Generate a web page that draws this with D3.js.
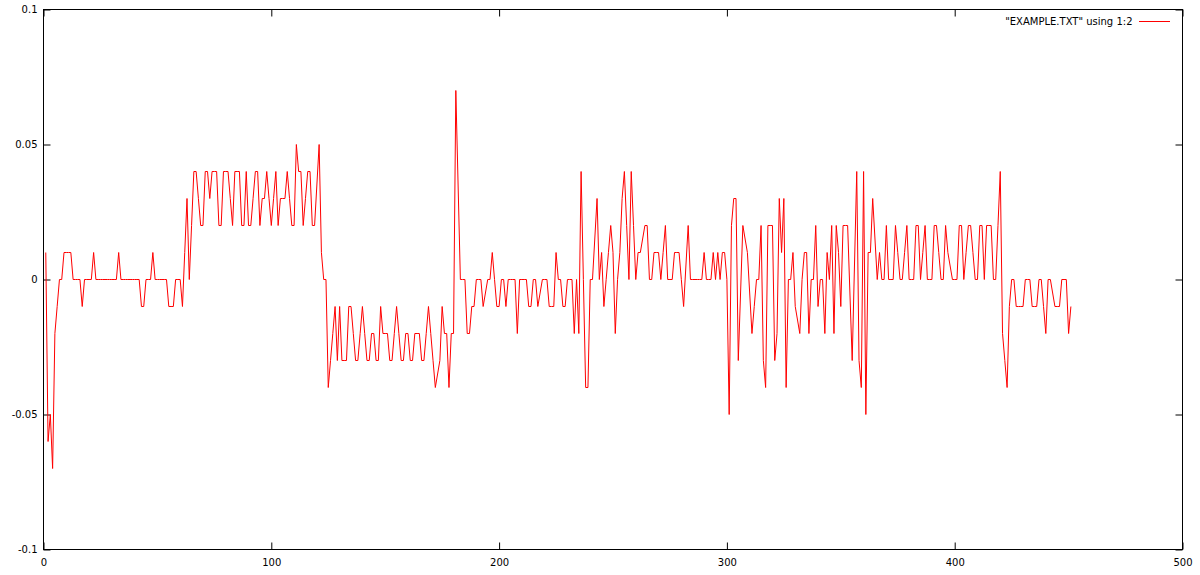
<!DOCTYPE html>
<html>
<head>
<meta charset="utf-8">
<script src="https://cdn.jsdelivr.net/npm/d3@7"></script>
<style>
  body { margin: 0; background: #fff; }
  svg { display: block; }
  text { font-family: 'DejaVu Sans', sans-serif; font-size: 10px; fill: #000; }
</style>
</head>
<body>
<svg id="chart"></svg>
<script>
// data, column 1 starts at 1
const startX = 1;
const values = [
  0.01, -0.06, -0.05, -0.07, -0.02, -0.01, 0, 0, 0.01, 0.01,
  0.01, 0.01, 0, 0, 0, 0, -0.01, 0, 0, 0,
  0, 0.01, 0, 0, 0, 0, 0, 0, 0, 0,
  0, 0, 0.01, 0, 0, 0, 0, 0, 0, 0,
  0, 0, -0.01, -0.01, 0, 0, 0, 0.01, 0, 0,
  0, 0, 0, 0, -0.01, -0.01, -0.01, 0, 0, 0,
  -0.01, 0.01, 0.03, 0, 0.02, 0.04, 0.04, 0.03, 0.02, 0.02,
  0.04, 0.04, 0.03, 0.04, 0.04, 0.04, 0.02, 0.02, 0.04, 0.04,
  0.04, 0.03, 0.02, 0.04, 0.04, 0.04, 0.02, 0.02, 0.04, 0.02,
  0.02, 0.03, 0.04, 0.04, 0.02, 0.03, 0.03, 0.04, 0.03, 0.02,
  0.03, 0.04, 0.02, 0.03, 0.03, 0.03, 0.04, 0.03, 0.02, 0.02,
  0.05, 0.04, 0.04, 0.02, 0.03, 0.04, 0.04, 0.02, 0.02, 0.035,
  0.05, 0.01, 0, 0, -0.04, -0.03, -0.02, -0.01, -0.03, -0.01,
  -0.03, -0.03, -0.03, -0.01, -0.01, -0.02, -0.03, -0.03, -0.02, -0.01,
  -0.02, -0.03, -0.03, -0.02, -0.02, -0.03, -0.03, -0.01, -0.02, -0.02,
  -0.02, -0.03, -0.03, -0.02, -0.01, -0.02, -0.03, -0.03, -0.02, -0.02,
  -0.03, -0.03, -0.02, -0.02, -0.02, -0.03, -0.03, -0.02, -0.01, -0.02,
  -0.03, -0.04, -0.035, -0.03, -0.01, -0.02, -0.02, -0.04, -0.02, -0.02,
  0.07, 0.035, 0, 0, 0, -0.02, -0.02, -0.01, -0.01, 0,
  0, 0, -0.01, -0.005, 0, 0, 0.01, 0, -0.01, -0.01,
  0, 0, -0.01, 0, 0, 0, 0, -0.02, 0, 0,
  0, 0, -0.01, -0.01, 0, 0, -0.01, -0.005, 0, 0,
  0, -0.01, -0.01, -0.01, 0.01, 0, 0, -0.01, -0.01, 0,
  0, 0, -0.02, 0, -0.02, 0.04, 0, -0.04, -0.04, 0,
  0, 0.015, 0.03, 0, 0.01, -0.01, 0, 0.01, 0.02, 0.01,
  -0.02, 0, 0.01, 0.03, 0.04, 0.02, 0, 0.04, 0.02, 0,
  0.01, 0.01, 0.015, 0.02, 0.02, 0, 0, 0.01, 0.01, 0.01,
  0, 0.01, 0.02, 0, 0, 0, 0.01, 0.01, 0.01, 0,
  -0.01, 0.005, 0.02, 0, 0, 0, 0, 0, 0, 0.01,
  0, 0, 0, 0.01, 0, 0.01, 0, 0.01, 0.01, 0,
  -0.05, 0.02, 0.03, 0.03, -0.03, -0.005, 0.02, 0.015, 0.01, -0.005,
  -0.02, -0.01, 0, 0, 0.02, -0.03, -0.04, 0.02, 0.02, 0.02,
  -0.03, -0.02, 0.03, 0.01, 0.03, -0.04, 0, 0, 0.01, -0.01,
  -0.015, -0.02, 0, 0.01, 0.01, -0.02, 0, 0, 0.02, -0.01,
  0, 0, -0.02, 0.01, 0, 0.02, -0.02, 0.02, 0.01, -0.01,
  0.02, 0.02, 0.02, -0.005, -0.03, 0.005, 0.04, -0.03, -0.04, 0.04,
  -0.05, 0.01, 0.01, 0.03, 0.015, 0, 0.01, 0, 0, 0.02,
  0, 0, 0, 0.02, 0.01, 0, 0, 0.01, 0.02, 0,
  0, 0, 0.02, 0.02, 0, 0.01, 0.02, 0, 0, 0,
  0.02, 0.02, 0.01, 0, 0, 0.02, 0.01, 0.005, 0, 0,
  0, 0.02, 0.02, 0, 0.01, 0.02, 0.02, 0.01, 0, 0,
  0.02, 0.02, 0, 0.02, 0.02, 0.02, 0, 0, 0.02, 0.04,
  -0.02, -0.03, -0.04, -0.01, 0, 0, -0.01, -0.01, -0.01, -0.01,
  0, 0, 0, -0.01, -0.01, -0.01, 0, 0, -0.01, -0.02,
  0, 0, -0.005, -0.01, -0.01, -0.01, 0, 0, 0, -0.02, -0.01
];

const xTicks = [0, 100, 200, 300, 400, 500];
const yTicks = [-0.1, -0.05, 0, 0.05, 0.1];
const yTickLabels = ['-0.1', '-0.05', '0', '0.05', '0.1'];
const legendLabel = '"EXAMPLE.TXT" using 1:2';

const WIDTH = 1200;
const HEIGHT = 575;
const MARGINS = { top: 9.5, right: 17.5, bottom: 25.5, left: 43.5 };
const CHART_WIDTH = WIDTH - MARGINS.left - MARGINS.right;
const CHART_HEIGHT = HEIGHT - MARGINS.top - MARGINS.bottom;
const TICK = 7;

const points = values.map((v, i) => ({ x: startX + i, y: v }));

const x = d3.scaleLinear().domain([0, 500]).range([0, CHART_WIDTH]);
const y = d3.scaleLinear().domain([-0.1, 0.1]).range([CHART_HEIGHT, 0]);

const svg = d3.select('#chart').attr('width', WIDTH).attr('height', HEIGHT);

const chart = svg
  .append('g')
  .attr('transform', `translate(${MARGINS.left}, ${MARGINS.top})`);

// axes, ticks point inwards like gnuplot, mirrored on top / right
const yFormat = (d) => yTickLabels[yTicks.indexOf(d)];

chart
  .append('g')
  .call(d3.axisLeft(y).tickValues(yTicks).tickFormat(yFormat).tickSizeInner(-TICK).tickSizeOuter(0).tickPadding(6));

chart
  .append('g')
  .attr('transform', `translate(${CHART_WIDTH}, 0)`)
  .call(d3.axisRight(y).tickValues(yTicks).tickFormat('').tickSizeInner(-TICK).tickSizeOuter(0));

chart
  .append('g')
  .attr('transform', `translate(0, ${CHART_HEIGHT})`)
  .call(d3.axisBottom(x).tickValues(xTicks).tickFormat(d3.format('d')).tickSizeInner(-TICK).tickSizeOuter(0).tickPadding(9));

chart
  .append('g')
  .call(d3.axisTop(x).tickValues(xTicks).tickFormat('').tickSizeInner(-TICK).tickSizeOuter(0));

chart.selectAll('.domain').remove();
chart.selectAll('.tick line').attr('stroke', '#000');
chart.selectAll('.tick text').style('font-family', "'DejaVu Sans', sans-serif").style('font-size', '10px');

chart
  .append('rect')
  .attr('width', CHART_WIDTH)
  .attr('height', CHART_HEIGHT)
  .attr('fill', 'none')
  .attr('stroke', '#000')
  .attr('stroke-width', 1);

const line = d3
  .line()
  .x((d) => x(d.x))
  .y((d) => y(d.y));

chart
  .append('path')
  .datum(points)
  .attr('d', line)
  .attr('fill', 'none')
  .attr('stroke', '#ff0000')
  .attr('stroke-width', 1)
  .attr('stroke-linejoin', 'miter');

// key, top right
const legend = svg.append('g').attr('transform', 'translate(0, 21.5)');
legend
  .append('text')
  .attr('x', 1132.5)
  .attr('dy', '0.35em')
  .attr('text-anchor', 'end')
  .text(legendLabel);
legend
  .append('line')
  .attr('x1', 1139)
  .attr('x2', 1170)
  .attr('stroke', '#ff0000')
  .attr('stroke-width', 1);
</script>
</body>
</html>
